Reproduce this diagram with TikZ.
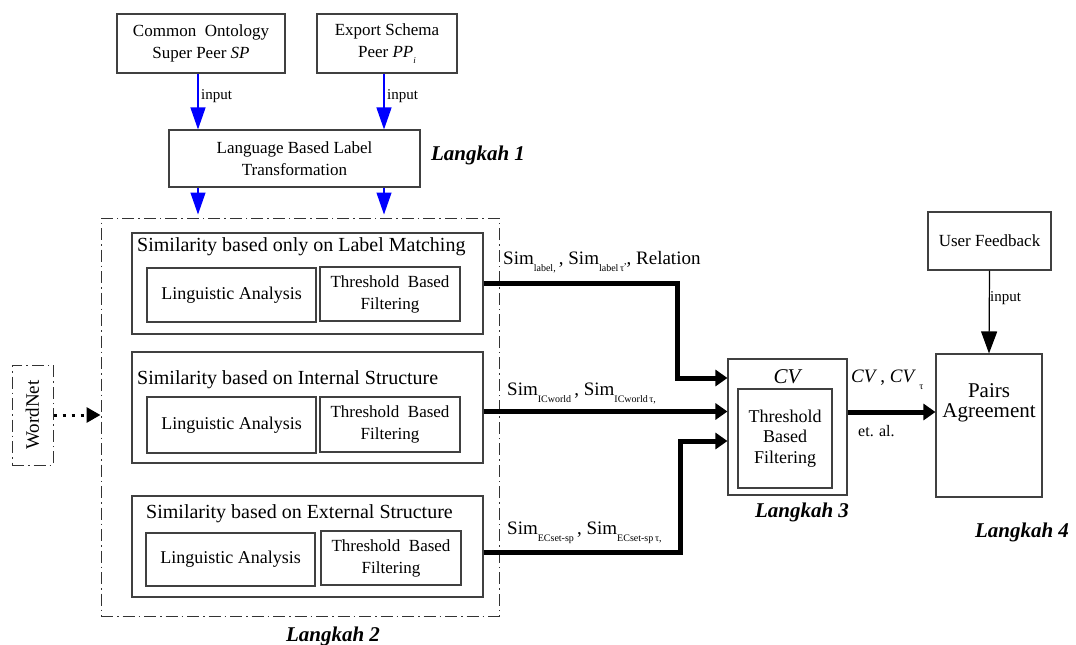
\documentclass[tikz,border=0pt]{standalone}
\usepackage{fontspec}
\setmainfont{Liberation Serif}
\usetikzlibrary{arrows.meta}
\newcommand\fs[2]{\fontsize{#1}{#2}\selectfont}
\newcommand\sbs[1]{\raisebox{-7pt}{\fs{10}{10}#1}}
\begin{document}
\begin{tikzpicture}[x=1pt,y=-1pt,
  box/.style={draw=black!75, line width=1.1pt, inner sep=0pt, align=center},
  ttl/.style={inner sep=0pt, anchor=west, font=\fs{20}{24}},
  lk/.style={inner sep=0pt, font=\fs{21}{24}\bfseries\itshape},
  dashdot/.style={draw=black!80, line width=1pt, dash pattern=on 12pt off 4pt on 1.5pt off 4pt},
  bluearr/.style={draw=blue, line width=1.3pt, -{Triangle[length=22pt,width=15pt]}, color=blue},
  thickarr/.style={draw=black, line width=5pt, -{Triangle[length=12pt,width=16pt]}},
  thinarr/.style={draw=black, line width=1.2pt, -{Triangle[length=22pt,width=16pt]}},
  lbl/.style={inner sep=0pt, anchor=west, font=\fs{15}{18}},
  siml/.style={inner sep=0pt, anchor=west, font=\fs{19}{22}}
]
\useasboundingbox (0,0) rectangle (1076,645);

% top input boxes
\node[box, minimum width=168pt, minimum height=59pt, font=\fs{17}{22}] (sp) at (201,43.5)
  {Common~~Ontology\\Super Peer \textit{SP}};
\node[box, minimum width=140pt, minimum height=59pt, font=\fs{17}{22}] (pp) at (387,43.5)
  {Export Schema\\Peer \textit{PP}\raisebox{-6pt}{\fs{9}{9}\textit{i}}};
\node[box, minimum width=251pt, minimum height=57pt, font=\fs{17}{22}] (lang) at (294.5,158.5)
  {Language Based Label\\Transformation};
\node[lk] (lk1) at (478,155) {Langkah 1};

% dashed region
\node[dashdot, minimum width=398pt, minimum height=398pt, inner sep=0pt] (dbox) at (300,417) {};
\node[lk] (lk2) at (333,636) {Langkah 2};

% similarity boxes
\node[box, minimum width=351pt, minimum height=101pt] (b1) at (307.5,283.5) {};
\node[ttl] (t1) at (137,247) {Similarity based only on Label Matching};
\node[box, minimum width=169pt, minimum height=54pt, font=\fs{18}{22}] (la1) at (231.5,295) {Linguistic Analysis};
\node[box, minimum width=140pt, minimum height=54pt, font=\fs{17}{22}] (tb1) at (390,294) {Threshold~~Based\\Filtering};

\node[box, minimum width=351pt, minimum height=111pt] (b2) at (307.5,407.5) {};
\node[ttl] (t2) at (137,380) {Similarity based on Internal Structure};
\node[box, minimum width=169pt, minimum height=56pt, font=\fs{18}{22}] (la2) at (231.5,425) {Linguistic Analysis};
\node[box, minimum width=140pt, minimum height=55pt, font=\fs{17}{22}] (tb2) at (390,424.5) {Threshold~~Based\\Filtering};

\node[box, minimum width=351pt, minimum height=101pt] (b3) at (307.5,546.5) {};
\node[ttl] (t3) at (146,514) {Similarity based on External Structure};
\node[box, minimum width=169pt, minimum height=53pt, font=\fs{18}{22}] (la3) at (230.5,559.5) {Linguistic Analysis};
\node[box, minimum width=140pt, minimum height=54pt, font=\fs{17}{22}] (tb3) at (391,558) {Threshold~~Based\\Filtering};

% WordNet
\node[dashdot, minimum width=41pt, minimum height=100pt, inner sep=0pt] (wn) at (32.5,415) {};
\node[inner sep=0pt, rotate=90, font=\fs{19}{22}] (wnt) at (wn.center) {WordNet};

% CV box
\node[box, minimum width=119pt, minimum height=136pt] (cv) at (787.5,427) {};
\node[inner sep=0pt, font=\fs{21}{24}\itshape] (cvt) at (787,377) {CV};
\node[box, minimum width=94pt, minimum height=99pt, font=\fs{18}{20.5}] (cvi) at (785,438.5) {Threshold\\Based\\Filtering};
\node[lk] (lk3) at (802,512) {Langkah 3};

% Pairs agreement
\node[box, minimum width=106pt, minimum height=143pt] (pa) at (989,425.5) {};
\node[inner sep=0pt, align=center, font=\fs{21}{20}] (pat) at (989,403) {Pairs\\Agreement};
\node[box, minimum width=123pt, minimum height=58pt, font=\fs{17}{22}] (uf) at (989.5,241) {User Feedback};
\node[lk] (lk4) at (1022,532) {Langkah 4};

% blue arrows
\coordinate (a1) at ([xshift=-3pt]sp.south);
\coordinate (a2) at ([xshift=-3pt]pp.south);
\draw[bluearr] (a1) -- (a1 |- lang.north);
\draw[bluearr] (a2) -- (a2 |- lang.north);
\node[lbl] (in1) at (201,96) {input};
\node[lbl] (in2) at (387,96) {input};
\coordinate (l1) at (a1 |- lang.south);
\coordinate (l2) at (a2 |- lang.south);
\draw[bluearr, shorten >=3pt] (l1) -- (l1 |- dbox.north);
\draw[bluearr, shorten >=3pt] (l2) -- (l2 |- dbox.north);

% thick connectors
\coordinate (j1) at (677,378);
\draw[thickarr] (b1.east) -| (j1) -- (j1 -| cv.west);
\coordinate (s2) at ([yshift=-4pt]b2.east);
\draw[thickarr] (s2) -- (s2 -| cv.west);
\coordinate (s3) at ([yshift=-5.5pt]b3.east);
\coordinate (j3) at (680,441);
\draw[thickarr] (s3) -| (j3) -- (j3 -| cv.west);

\node[siml] (sl1) at (503,262) {Sim\sbs{label,}\,, Sim\sbs{label\,τ\raisebox{7pt}{,}}, Relation};
\node[siml] (sl2) at (507,393) {Sim\sbs{ICworld}\,, Sim\sbs{ICworld\,τ,}};
\node[siml] (sl3) at (507,533) {Sim\sbs{ECset-sp}\,, Sim\sbs{ECset-sp\,τ,}};

% CV -> Pairs
\coordinate (c1) at ([yshift=15pt]cv.east);
\draw[thickarr] (c1) -- (c1 -| pa.west);
\node[inner sep=0pt, anchor=west, font=\fs{19}{22}] (cvl) at (851,380) {\textit{CV}\,, \textit{CV}\,\raisebox{-7pt}{\fs{10}{10}τ}};
\node[inner sep=0pt, anchor=west, font=\fs{16}{20}] (etal) at (858,431) {et. al.};

% user feedback arrow
\draw[thinarr] (uf.south) -- (pa.north);
\node[lbl] (in3) at (990,298) {input};

% WordNet arrow
\draw[draw=black, line width=3pt, dash pattern=on 3pt off 6pt, -{Triangle[length=14pt,width=15pt]}] (wn.east) -- (wn.east -| dbox.west);
\end{tikzpicture}
\end{document}
